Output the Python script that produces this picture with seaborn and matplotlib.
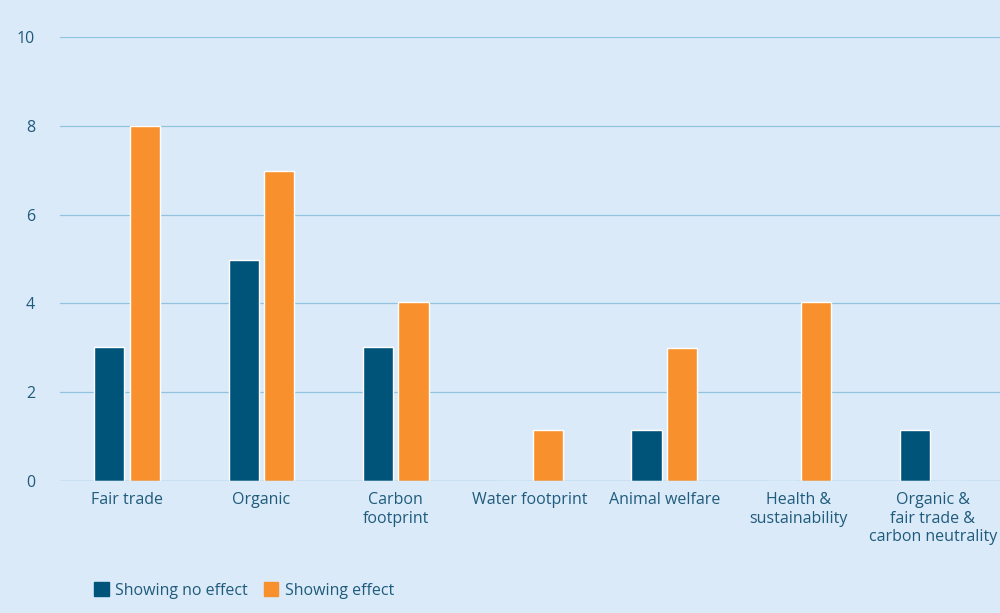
import matplotlib
matplotlib.use("Agg")
import matplotlib.pyplot as plt
import seaborn as sns
import pandas as pd
from matplotlib.patches import Patch

categories = ["Fair trade", "Organic", "Carbon\nfootprint", "Water footprint",
              "Animal welfare", "Health &\nsustainability",
              "Organic &\nfair trade &\ncarbon neutrality"]
no_effect = [3.03, 4.97, 3.03, 0, 1.15, 0, 1.15]
effect = [8.0, 6.97, 4.03, 1.15, 2.99, 4.03, 0]
series = ["Showing no effect", "Showing effect"]
colors = ["#00547a", "#f7902d"]

BG = "#dbeaf8"
TXT = "#1f5b7c"

df = pd.DataFrame({
    "cat": categories * 2,
    "val": no_effect + effect,
    "series": [series[0]] * len(categories) + [series[1]] * len(categories),
})

sns.set_style("white")
plt.rcParams["font.family"] = ["Open Sans", "DejaVu Sans"]

fig = plt.figure(figsize=(10, 6.13), dpi=100, facecolor=BG)
ax = fig.add_axes([0.06, 0.215, 0.94, 0.725], facecolor=BG)

sns.barplot(data=df, x="cat", y="val", hue="series", palette=colors,
            width=0.53, gap=0.15, ax=ax, legend=False, saturation=1)

ax.set_ylim(0, 10)
ax.set_xlim(-0.5, 6.5)
ax.set_yticks(range(0, 11, 2))
ax.yaxis.grid(True, color="#8fc3df", lw=0.9)
ax.set_axisbelow(True)
for s in ax.spines.values():
    s.set_visible(False)
ax.axhline(0, color="#8fc3df", lw=0.9)
ax.set_xlabel("")
ax.set_ylabel("")
ax.tick_params(axis="both", length=0, labelsize=11.5, colors=TXT)
ax.tick_params(axis="y", pad=18)
ax.tick_params(axis="x", pad=8)
for lab in ax.get_xticklabels():
    lab.set_verticalalignment("top")

handles = [Patch(color=c, label=s) for c, s in zip(colors, series)]
fig.legend(handles=handles, loc="lower left", bbox_to_anchor=(0.08, 0.0),
           ncol=2, frameon=False, fontsize=11.5, labelcolor=TXT,
           handlelength=0.9, handleheight=0.9, handletextpad=0.4,
           columnspacing=1.0)

fig.savefig("out.png", dpi=100, facecolor=BG)
